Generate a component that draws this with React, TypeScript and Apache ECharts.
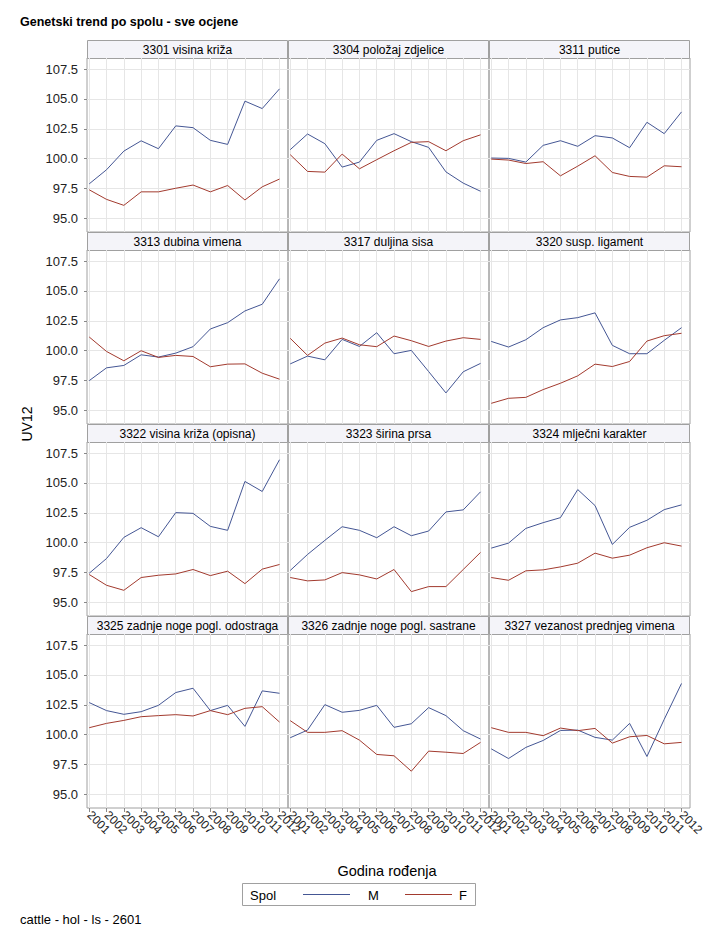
import React, { useEffect, useRef } from "react";
import * as echarts from "echarts";

const years = [2001, 2002, 2003, 2004, 2005, 2006, 2007, 2008, 2009, 2010, 2011, 2012];
const yTicks = [95, 97.5, 100, 102.5, 105, 107.5];

const panelTitles = [
  "3301 visina križa",
  "3304 položaj zdjelice",
  "3311 putice",
  "3313 dubina vimena",
  "3317 duljina sisa",
  "3320 susp. ligament",
  "3322 visina križa (opisna)",
  "3323 širina prsa",
  "3324 mlječni karakter",
  "3325 zadnje noge pogl. odostraga",
  "3326 zadnje noge pogl. sastrane",
  "3327 vezanost prednjeg vimena",
];

const m3301 = [97.9, 99.08, 100.64, 101.5, 100.84, 102.75, 102.6, 101.54, 101.2, 104.82, 104.2, 105.85];
const f3301 = [97.4, 96.6, 96.1, 97.23, 97.23, 97.53, 97.8, 97.23, 97.76, 96.55, 97.65, 98.3];
const m3304 = [100.76, 102.07, 101.26, 99.3, 99.72, 101.54, 102.1, 101.43, 100.95, 98.9, 97.96, 97.28];
const f3304 = [100.34, 98.94, 98.88, 100.39, 99.16, 99.92, 100.67, 101.37, 101.43, 100.67, 101.51, 102.0];
const m3311 = [100.06, 100.03, 99.72, 101.12, 101.51, 101.04, 101.93, 101.74, 100.92, 103.05, 102.1, 103.92];
const f3311 = [99.97, 99.89, 99.6, 99.75, 98.57, 99.38, 100.25, 98.85, 98.52, 98.46, 99.41, 99.33];
const m3313 = [97.5, 98.57, 98.77, 99.66, 99.47, 99.8, 100.34, 101.82, 102.35, 103.33, 103.89, 106.02];
const f3313 = [101.15, 99.94, 99.16, 100.0, 99.44, 99.61, 99.52, 98.66, 98.88, 98.9, 98.12, 97.62];
const m3317 = [98.9, 99.55, 99.24, 100.95, 100.36, 101.51, 99.75, 100.03, 98.26, 96.47, 98.24, 98.94];
const f3317 = [101.04, 99.61, 100.64, 101.06, 100.5, 100.34, 101.23, 100.84, 100.36, 100.81, 101.09, 100.95];
const m3320 = [100.78, 100.31, 100.92, 101.93, 102.58, 102.77, 103.17, 100.45, 99.75, 99.75, 100.87, 101.93];
const f3320 = [95.6, 96.02, 96.1, 96.75, 97.28, 97.9, 98.88, 98.68, 99.1, 100.81, 101.26, 101.46];
const m3322 = [97.45, 98.68, 100.45, 101.26, 100.5, 102.52, 102.46, 101.37, 101.04, 105.13, 104.29, 106.95];
const f3322 = [97.34, 96.44, 96.02, 97.09, 97.28, 97.39, 97.76, 97.25, 97.62, 96.58, 97.79, 98.18];
const m3323 = [97.68, 99.02, 100.2, 101.34, 101.04, 100.42, 101.34, 100.59, 100.98, 102.58, 102.75, 104.26];
const f3323 = [97.09, 96.81, 96.89, 97.5, 97.31, 96.97, 97.76, 95.91, 96.33, 96.33, 97.76, 99.19];
const m3324 = [99.55, 99.97, 101.2, 101.68, 102.1, 104.45, 103.11, 99.86, 101.29, 101.88, 102.77, 103.17];
const f3324 = [97.09, 96.86, 97.65, 97.73, 97.98, 98.29, 99.13, 98.71, 98.96, 99.58, 100.0, 99.72];
const m3325 = [102.69, 102.02, 101.71, 101.93, 102.46, 103.53, 103.89, 102.02, 102.46, 100.7, 103.67, 103.47];
const f3325 = [100.59, 100.95, 101.2, 101.51, 101.6, 101.68, 101.57, 102.02, 101.68, 102.21, 102.35, 101.06];
const m3326 = [99.75, 100.39, 102.52, 101.88, 102.04, 102.46, 100.62, 100.92, 102.27, 101.6, 100.34, 99.64];
const f3326 = [101.18, 100.2, 100.2, 100.34, 99.55, 98.35, 98.24, 96.95, 98.63, 98.54, 98.43, 99.36];
const m3327 = [98.82, 98.01, 98.94, 99.52, 100.36, 100.39, 99.78, 99.55, 100.95, 98.18, 101.29, 104.29];
const f3327 = [100.59, 100.2, 100.2, 99.92, 100.56, 100.34, 100.53, 99.3, 99.83, 99.94, 99.24, 99.36];

const maleSeries = [m3301, m3304, m3311, m3313, m3317, m3320, m3322, m3323, m3324, m3325, m3326, m3327];
const femaleSeries = [f3301, f3304, f3311, f3313, f3317, f3320, f3322, f3323, f3324, f3325, f3326, f3327];

const FONT = "'Liberation Sans', Arial, sans-serif";
const BLUE = "#445694";
const RED = "#A23A2E";
const BORDER = "#a0a0a0";
const GRIDLINE = "#e6e6e6";

function buildOption() {
  const grids: any[] = [];
  const xAxes: any[] = [];
  const yAxes: any[] = [];
  const series: any[] = [];
  const graphics: any[] = [];

  panelTitles.forEach((title, i) => {
    const col = i % 3;
    const row = Math.floor(i / 3);
    const left = 87 + col * 201;
    const top = 58 + row * 192;
    grids.push({
      left,
      top,
      width: 201,
      height: 174,
      show: true,
      borderColor: BORDER,
      borderWidth: 1,
      backgroundColor: "transparent",
    });
    xAxes.push({
      type: "value",
      gridIndex: i,
      min: 2000.87,
      max: 2012.49,
      axisLine: { show: false },
      axisTick: {
        show: row === 3,
        customValues: years,
        length: 4,
        lineStyle: { color: "#888" },
      },
      axisLabel: {
        show: row === 3,
        customValues: years,
        rotate: -45,
        margin: 5,
        fontSize: 12,
        fontFamily: FONT,
        color: "#222",
        showMinLabel: true,
        showMaxLabel: true,
        hideOverlap: false,
        formatter: (v: number) => String(Math.round(v)),
      },
      splitLine: { show: true, lineStyle: { color: GRIDLINE, width: 1 } },
    });
    yAxes.push({
      type: "value",
      gridIndex: i,
      min: 93.87,
      max: 108.43,
      axisLine: { show: false },
      axisTick: {
        show: col === 0,
        customValues: yTicks,
        length: 3,
        lineStyle: { color: "#888" },
      },
      axisLabel: {
        show: col === 0,
        customValues: yTicks,
        margin: 9,
        fontSize: 13,
        fontFamily: FONT,
        color: "#222",
        showMinLabel: true,
        showMaxLabel: true,
        formatter: (v: number) => v.toFixed(1),
      },
      splitLine: { show: true, lineStyle: { color: GRIDLINE, width: 1 } },
    });
    series.push({
      type: "line",
      name: "M",
      xAxisIndex: i,
      yAxisIndex: i,
      data: years.map((y, k) => [y, maleSeries[i][k]]),
      symbol: "none",
      silent: true,
      lineStyle: { color: BLUE, width: 1 },
      itemStyle: { color: BLUE },
      z: 3,
    });
    series.push({
      type: "line",
      name: "F",
      xAxisIndex: i,
      yAxisIndex: i,
      data: years.map((y, k) => [y, femaleSeries[i][k]]),
      symbol: "none",
      silent: true,
      lineStyle: { color: RED, width: 1 },
      itemStyle: { color: RED },
      z: 3,
    });
    const hTop = 40 + row * 192;
    graphics.push({
      type: "rect",
      shape: { x: left + 0.5, y: hTop + 0.5, width: 200, height: 18 },
      style: { fill: "#f4f4f9", stroke: BORDER, lineWidth: 1 },
      silent: true,
    });
    graphics.push({
      type: "text",
      x: left + 100.5,
      y: hTop + 10,
      style: {
        text: title,
        fontSize: 12,
        fontFamily: FONT,
        fill: "#000",
        textAlign: "center",
        textVerticalAlign: "middle",
      },
      silent: true,
    });
  });

  graphics.push(
    {
      type: "text",
      x: 20,
      y: 22,
      style: {
        text: "Genetski trend po spolu - sve ocjene",
        fontSize: 12.5,
        fontWeight: "bold",
        fontFamily: FONT,
        fill: "#000",
        textVerticalAlign: "middle",
      },
    },
    {
      type: "text",
      x: 27,
      y: 424,
      rotation: Math.PI / 2,
      style: {
        text: "UV12",
        fontSize: 14,
        fontFamily: FONT,
        fill: "#000",
        textAlign: "center",
        textVerticalAlign: "middle",
      },
    },
    {
      type: "text",
      x: 387,
      y: 871,
      style: {
        text: "Godina rođenja",
        fontSize: 14.5,
        fontFamily: FONT,
        fill: "#000",
        textAlign: "center",
        textVerticalAlign: "middle",
      },
    },
    {
      type: "rect",
      shape: { x: 242.5, y: 883.5, width: 233, height: 22 },
      style: { fill: "#fff", stroke: BORDER, lineWidth: 1 },
    },
    {
      type: "text",
      x: 250,
      y: 895,
      style: {
        text: "Spol",
        fontSize: 13,
        fontFamily: FONT,
        fill: "#000",
        textVerticalAlign: "middle",
      },
    },
    {
      type: "line",
      shape: { x1: 303, y1: 894.5, x2: 350, y2: 894.5 },
      style: { stroke: BLUE, lineWidth: 1 },
    },
    {
      type: "text",
      x: 368,
      y: 895,
      style: {
        text: "M",
        fontSize: 13,
        fontFamily: FONT,
        fill: "#000",
        textVerticalAlign: "middle",
      },
    },
    {
      type: "line",
      shape: { x1: 405, y1: 894.5, x2: 452, y2: 894.5 },
      style: { stroke: RED, lineWidth: 1 },
    },
    {
      type: "text",
      x: 459,
      y: 895,
      style: {
        text: "F",
        fontSize: 13,
        fontFamily: FONT,
        fill: "#000",
        textVerticalAlign: "middle",
      },
    },
    {
      type: "text",
      x: 20,
      y: 919,
      style: {
        text: "cattle - hol - ls - 2601",
        fontSize: 13,
        fontFamily: FONT,
        fill: "#000",
        textVerticalAlign: "middle",
      },
    }
  );

  return {
    animation: false,
    backgroundColor: "#fff",
    textStyle: { fontFamily: FONT },
    grid: grids,
    xAxis: xAxes,
    yAxis: yAxes,
    series,
    graphic: graphics,
  };
}

export default function App() {
  const ref = useRef<HTMLDivElement>(null);
  useEffect(() => {
    if (!ref.current) return;
    const chart = echarts.init(ref.current, undefined, { renderer: "svg" });
    chart.setOption(buildOption() as any);
    return () => chart.dispose();
  }, []);
  return (
    <div
      ref={ref}
      style={{ position: "absolute", left: 0, top: 0, width: 718, height: 945, background: "#fff" }}
    />
  );
}
